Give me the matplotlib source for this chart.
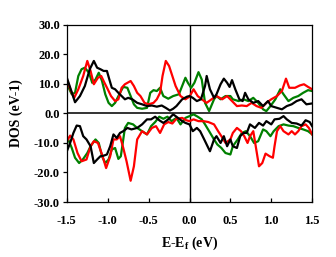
import numpy as np
import matplotlib.pyplot as plt

# spin-up / spin-down DOS
e_black_up = [-1.5, -1.45, -1.4, -1.34, -1.28, -1.22, -1.17, -1.13, -1.09, -1.05, -1.01, -0.98, -0.95, -0.91,
              -0.87, -0.83, -0.79, -0.75, -0.70, -0.64, -0.58, -0.52, -0.46, -0.40, -0.34, -0.29, -0.24, -0.20,
              -0.16, -0.09, -0.03, 0.0, 0.04, 0.09, 0.14, 0.19, 0.21, 0.25, 0.30, 0.33, 0.38, 0.42, 0.46, 0.49,
              0.52, 0.56, 0.61, 0.65, 0.68, 0.72, 0.78, 0.84, 0.90, 0.96, 1.0, 1.07, 1.13, 1.19, 1.25, 1.31,
              1.37, 1.43, 1.5]
dos_black_up = [12.1, 8, 3.8, 5.9, 9.3, 15, 17.8, 15.5, 15, 14.4, 14.4, 11.5, 8.7, 8.2,
                7, 5.9, 4.8, 5.3, 4.8, 3.6, 3.1, 2.5, 2.7, 2.3, 2.7, 1.9, 1.0, 1.6,
                2.5, 4.8, 5.7, 5.9, 5.3, 4.2, 4.8, 9.3, 12.7, 8.2, 5.3, 6.5, 9.9, 11.8, 10.4, 9,
                11.3, 8.2, 4.8, 4.2, 7, 4.8, 3.6, 4.2, 2.5, 4.2, 2.5, 1.9, 1.4, 2.5, 3.1, 4.2,
                4.8, 3.1, 3.4]

e_green_up = [-1.5, -1.44, -1.4, -1.36, -1.32, -1.28, -1.23, -1.19, -1.15, -1.11, -1.07, -1.03, -0.99, -0.95,
              -0.91, -0.85, -0.81, -0.76, -0.72, -0.68, -0.64, -0.58, -0.52, -0.48, -0.44, -0.40, -0.36, -0.32,
              -0.26, -0.20, -0.13, -0.09, -0.05, -0.02, 0.02, 0.06, 0.11, 0.15, 0.19, 0.24, 0.30, 0.33, 0.38,
              0.44, 0.5, 0.53, 0.60, 0.66, 0.72, 0.78, 0.84, 0.90, 0.94, 0.99, 1.05, 1.11, 1.15, 1.21, 1.27,
              1.33, 1.39, 1.45, 1.5]
dos_green_up = [10, 6.5, 7, 12.7, 15, 15.5, 13.8, 10.4, 11.5, 13.8, 11, 6.5, 3.6, 2.5,
                3.6, 7, 9, 8.7, 5.9, 3.1, 1.9, 1.6, 1.9, 7, 7.9, 7.6, 8.7, 5.9,
                5, 5.9, 6.5, 9.3, 12.1, 10.4, 8.7, 10.4, 14, 11.5, 3.6, 0.8, 4.8, 5.9, 4.8,
                5.9, 5.9, 4.8, 4.2, 4.8, 4.2, 5.3, 3.6, 1.4, 0.8, 2.5, 4.8, 8.2, 6.5, 4.2, 5.3,
                5.9, 7, 7.9, 7.6]

e_red_up = [-1.5, -1.45, -1.41, -1.36, -1.30, -1.25, -1.21, -1.17, -1.12, -1.08, -1.04, -1.0, -0.96, -0.91,
            -0.87, -0.83, -0.79, -0.72, -0.68, -0.64, -0.60, -0.55, -0.50, -0.44, -0.40, -0.36, -0.33, -0.29,
            -0.25, -0.21, -0.17, -0.11, -0.05, 0.0, 0.05, 0.10, 0.15, 0.21, 0.27, 0.33, 0.40, 0.46, 0.52,
            0.58, 0.64, 0.70, 0.76, 0.82, 0.88, 0.94, 1.0, 1.07, 1.13, 1.18, 1.22, 1.29, 1.35, 1.40, 1.45, 1.5]
dos_red_up = [11.5, 7.6, 5.3, 8.2, 12.7, 17.8, 14.4, 9.9, 12.1, 12.7, 10.4, 8.2, 5.9, 4.2,
              4.8, 8.7, 9.9, 11, 9.3, 7, 5.9, 3.6, 3.1, 3.6, 4.8, 7, 12.7, 17.8,
              16.1, 12.7, 9.3, 5.9, 4.8, 5.7, 8.2, 5.9, 4.8, 3.6, 4.8, 5.9, 4.8, 5.9, 4.2,
              2.5, 2.7, 2.5, 3.6, 2.5, 1.9, 3.6, 4.8, 5.9, 7.6, 11.8, 8.7, 8.7, 9.5, 9.9, 9, 8.2]

e_black_dn = [-1.5, -1.46, -1.42, -1.38, -1.34, -1.30, -1.26, -1.21, -1.17, -1.13, -1.09, -1.05, -1.01, -0.97,
              -0.93, -0.89, -0.85, -0.81, -0.76, -0.71, -0.64, -0.58, -0.52, -0.47, -0.42, -0.37, -0.32, -0.26,
              -0.20, -0.16, -0.09, -0.05, 0.0, 0.04, 0.09, 0.13, 0.18, 0.22, 0.25, 0.30, 0.33, 0.38, 0.42,
              0.46, 0.5, 0.53, 0.58, 0.62, 0.66, 0.70, 0.74, 0.80, 0.85, 0.90, 0.94, 1.0, 1.04, 1.10, 1.15,
              1.19, 1.25, 1.31, 1.37, 1.42, 1.47, 1.5]
dos_black_dn = [-12.8, -10, -6.6, -4.1, -4.3, -7.7, -8.8, -11.1, -16.8, -15.6, -14.5, -14.3, -13.9, -11.1,
                -7.1, -8.3, -6.6, -6, -4.9, -5.4, -4.9, -3.7, -2, -2, -1.1, -2.3, -3.2, -2,
                -0.3, -1.1, -2.6, -3.2, -3.7, -6, -4.9, -6, -8.8, -11.1, -12.8, -8.8, -7.7, -10, -7.7,
                -11.1, -8.8, -11.1, -11.7, -7.7, -6.6, -6.6, -3.7, -4.9, -3.2, -4.1, -2.6, -3.7, -2, -1.8, -0.9,
                -2, -3.2, -3.4, -4.1, -2.3, -2.9, -4.3]

e_green_dn = [-1.5, -1.44, -1.4, -1.35, -1.30, -1.25, -1.21, -1.15, -1.11, -1.07, -1.03, -0.99, -0.95, -0.91,
              -0.87, -0.84, -0.79, -0.75, -0.69, -0.64, -0.58, -0.52, -0.47, -0.42, -0.37, -0.32, -0.27, -0.22,
              -0.16, -0.11, -0.05, 0.0, 0.05, 0.10, 0.15, 0.19, 0.24, 0.30, 0.34, 0.39, 0.44, 0.5, 0.53,
              0.59, 0.64, 0.69, 0.74, 0.79, 0.84, 0.90, 0.94, 0.99, 1.03, 1.09, 1.15, 1.21, 1.27, 1.33,
              1.39, 1.45, 1.5]
dos_green_dn = [-7.7, -11.7, -15, -16.8, -15.4, -13.4, -11.1, -8.8, -10, -14.5, -16.8, -15.6, -12.2, -11.7,
                -15.4, -14.5, -4.9, -3.2, -3.7, -4.9, -6, -7.1, -4.3, -2.9, -1.1, -1.8, -1.1, -2.6,
                -1.5, -3.7, -1.5, -0.9, -0.3, -1.1, -2, -3.7, -6, -8.8, -10.5, -11.7, -13.4, -13.9, -11.1,
                -8.8, -6.6, -6, -7.7, -10, -9.4, -5.4, -6, -7.7, -6, -4.3, -3.7, -4.1, -4.3, -4.9,
                -5.4, -6, -7.1]

e_red_dn = [-1.5, -1.46, -1.42, -1.37, -1.32, -1.26, -1.21, -1.17, -1.12, -1.07, -1.02, -0.97, -0.93, -0.89,
            -0.85, -0.81, -0.77, -0.72, -0.68, -0.64, -0.58, -0.52, -0.46, -0.41, -0.36, -0.31, -0.26, -0.21,
            -0.16, -0.09, -0.04, 0.0, 0.05, 0.11, 0.17, 0.23, 0.30, 0.35, 0.39, 0.44, 0.5, 0.53, 0.58,
            0.63, 0.67, 0.71, 0.74, 0.78, 0.81, 0.85, 0.89, 0.93, 0.98, 1.02, 1.04, 1.07, 1.11, 1.15, 1.21,
            1.25, 1.29, 1.33, 1.37, 1.42, 1.46, 1.5]
dos_red_dn = [-9.4, -7.5, -8.8, -13.4, -16.2, -15.6, -11.1, -9.4, -10, -13.9, -18.5, -14.5, -8.8, -8.8,
              -7.7, -11.7, -16.2, -22.8, -17.9, -8.8, -6, -7.1, -4.9, -4.3, -6.6, -3.7, -2.9, -3.4,
              -1.8, -1.5, -2.3, -2.6, -2, -2.6, -2.6, -2.9, -3.7, -6, -7.7, -10, -8.8, -6.6, -4.9,
              -6, -7.7, -10, -7.7, -6, -11.1, -17.9, -16.8, -13.6, -14.5, -15, -11.1, -6, -4.3, -6, -7.1,
              -6, -7.1, -6, -4.3, -3.7, -4.9, -7.1]

plt.rcParams['font.family'] = 'Liberation Serif'
plt.rcParams['font.weight'] = 'bold'
plt.rcParams['mathtext.fontset'] = 'custom'
plt.rcParams['mathtext.rm'] = 'Liberation Serif:bold'
plt.rcParams['mathtext.bf'] = 'Liberation Serif:bold'
plt.rcParams['mathtext.it'] = 'Liberation Serif:bold'

fig = plt.figure(figsize=(3.36, 2.57), dpi=100)
ax = fig.add_axes([0.199, 0.214, 0.730, 0.689])

ax.axhline(0, color='#333333', lw=1.4, zorder=1)
ax.axvline(0, color='black', lw=1.0, zorder=1)

lw = 1.6
ax.plot(e_green_up, dos_green_up, color='#008000', lw=lw)
ax.plot(e_green_dn, dos_green_dn, color='#008000', lw=lw)
ax.plot(e_red_up, dos_red_up, color='red', lw=lw)
ax.plot(e_red_dn, dos_red_dn, color='red', lw=lw)
ax.plot(e_black_up, dos_black_up, color='black', lw=lw)
ax.plot(e_black_dn, dos_black_dn, color='black', lw=lw)

ax.set_xlim(-1.5, 1.5)
ax.set_ylim(-30, 30)
ax.set_xticks(np.arange(-1.5, 1.51, 0.5))
ax.set_yticks(np.arange(-30, 31, 10))
ax.set_xticklabels(['%.1f' % v for v in np.arange(-1.5, 1.51, 0.5)])
ax.set_yticklabels(['%.1f' % v for v in np.arange(-30, 31, 10)])
ax.tick_params(axis='x', direction='in', length=3, width=0.9, labelsize=9, pad=9)
ax.tick_params(axis='y', direction='out', length=3, width=0.9, labelsize=9, pad=2)
for s in ax.spines.values():
    s.set_linewidth(0.9)

ax.set_xlabel('E-E$_\\mathrm{f}$ (eV)', fontsize=10, fontweight='bold', labelpad=6)
ax.set_ylabel('DOS (eV-1)', fontsize=10, fontweight='bold', labelpad=8)

plt.savefig('out.png', dpi=100)
